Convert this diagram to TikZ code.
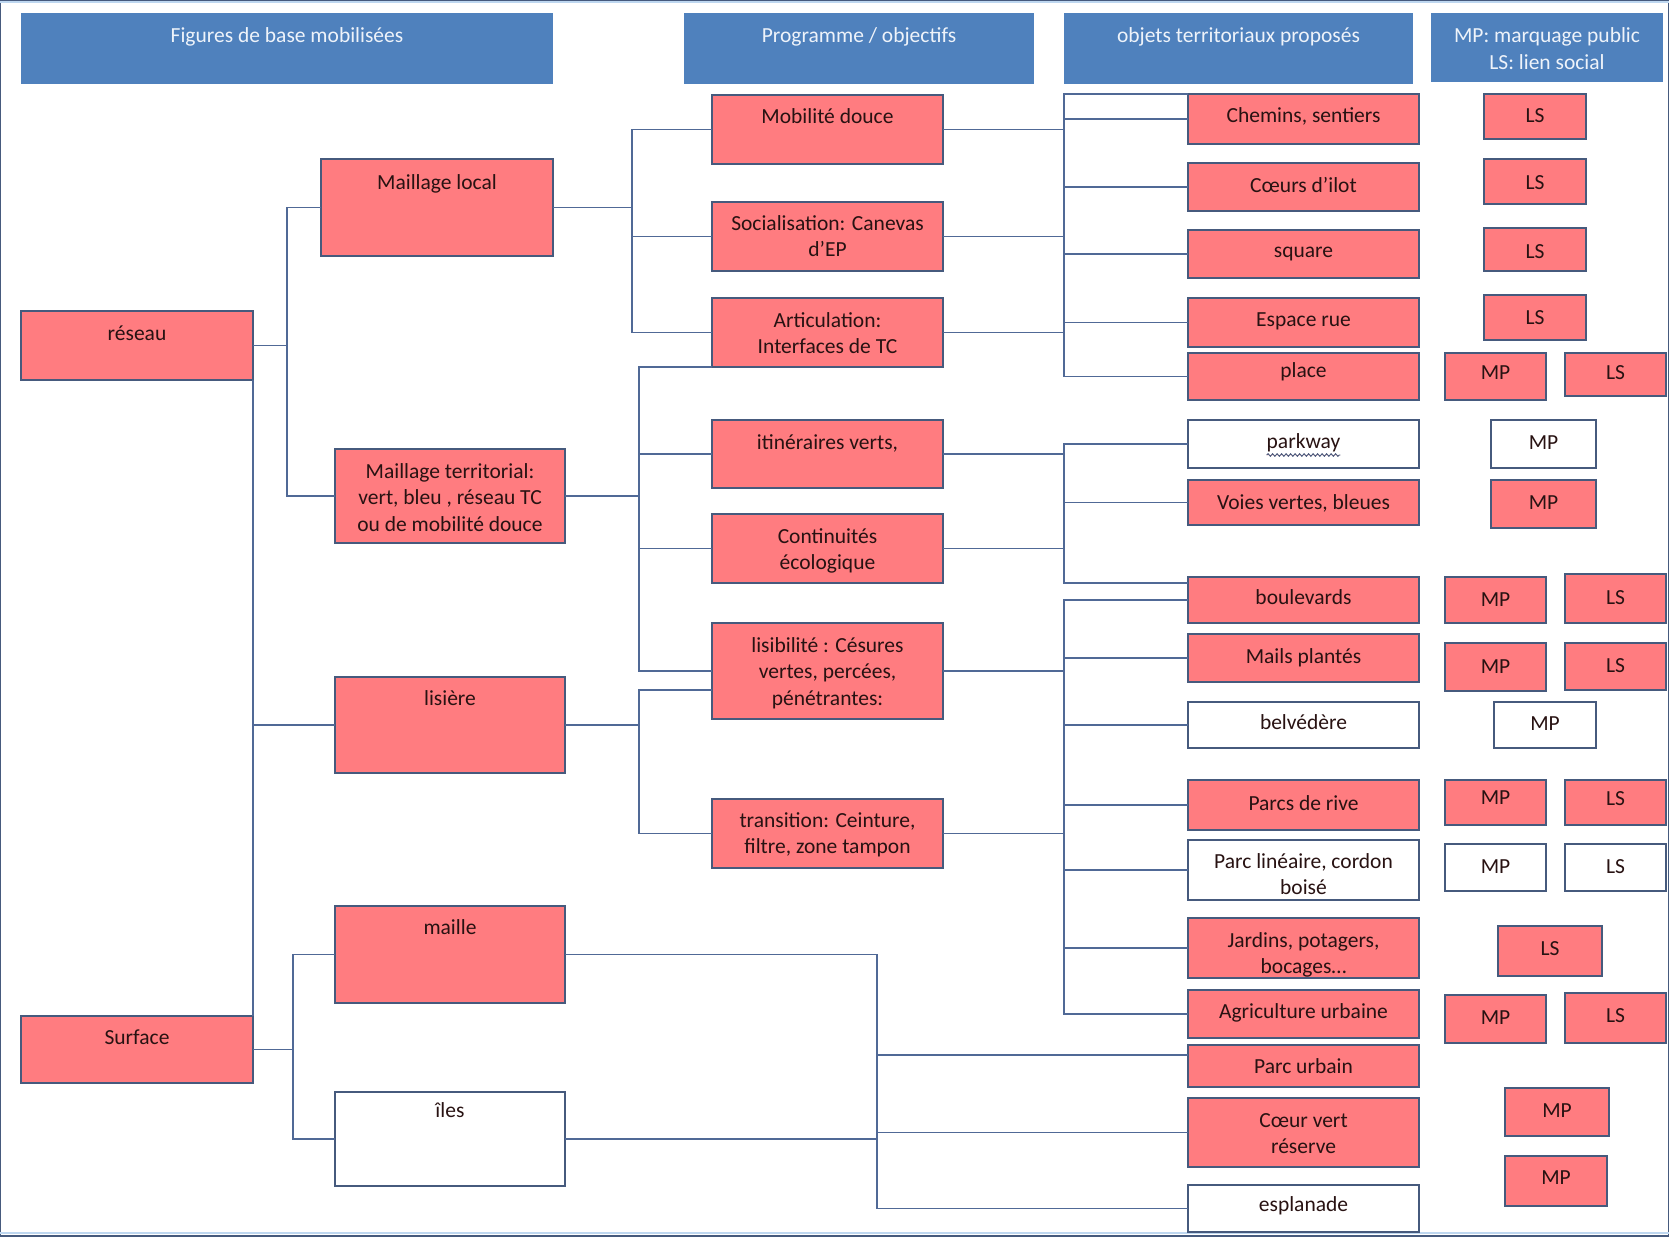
\documentclass[tikz,border=0pt]{standalone}
\usepackage{fontspec}
\setmainfont{Carlito}
\usetikzlibrary{calc,decorations.pathmorphing}
\definecolor{redfill}{RGB}{255,124,128}
\definecolor{hdrblue}{RGB}{79,129,189}
\definecolor{edgecol}{RGB}{70,90,125}
\definecolor{conncol}{RGB}{80,105,150}
\definecolor{rulecol}{RGB}{190,215,240}
\definecolor{ink}{RGB}{40,18,18}
\definecolor{hdrink}{RGB}{238,243,250}
\tikzset{
  red/.style={draw=edgecol, fill=redfill, line width=1.4pt, inner sep=0pt, outer sep=0pt},
  white/.style={draw=edgecol, fill=white, line width=1.4pt, inner sep=0pt, outer sep=0pt},
  hdr/.style={fill=hdrblue, inner sep=0pt, outer sep=0pt},
  txt/.style={inner sep=0pt, outer sep=0pt, anchor=base},
  redtxt/.style={text=ink},
  whitetxt/.style={text=ink},
  hdrtxt/.style={text=hdrink},
  conn/.style={draw=conncol, line width=1.6pt},
}
\newcommand\bx[8]{%
  \pgfmathsetmacro\mybw{#5-#3}%
  \pgfmathsetmacro\mybh{#6-#4}%
  \pgfmathsetmacro\mycx{(#3+#5)/2}%
  \node[#1, minimum width=\mybw pt, minimum height=\mybh pt, anchor=north west] (#2) at (#3,#4) {};
  \node[txt, #1txt] (#2t) at (\mycx,#7) {#8};}
\newcommand\twol[2]{\begin{tabular}[t]{@{}c@{}}#1\\#2\end{tabular}}
\newcommand\threel[3]{\begin{tabular}[t]{@{}c@{}}#1\\#2\\#3\end{tabular}}
\begin{document}
\begin{tikzpicture}[x=1pt, y=-1pt, font=\fontsize{21.5}{26.5}\selectfont]
\useasboundingbox (0,0) rectangle (1669,1236);
\fill[white] (0,0) rectangle (1669,1236);
\draw[rulecol, line width=2pt] (0,2) -- (1669,2);
\draw[rulecol, line width=2pt] (0,1233) -- (1669,1233);

% headers
\bx{hdr}{h1}{21}{13}{553}{84}{43}{Figures de base mobilisées}
\bx{hdr}{h2}{684}{13}{1034}{84}{43}{Programme / objectifs}
\bx{hdr}{h3}{1064}{13}{1413}{84}{43}{objets territoriaux proposés}
\bx{hdr}{h4}{1431}{13}{1663}{82}{43}{\twol{MP: marquage public}{LS: lien social}}

% column 1
\bx{red}{reseau}{21}{311}{253}{380}{340}{réseau}
\bx{red}{surface}{21}{1016}{253}{1083}{1044}{Surface}

% column 2
\bx{red}{ml}{321}{159}{553}{256}{189}{Maillage local}
\bx{red}{mt}{335}{449}{565}{543}{478}{\threel{Maillage territorial:}{vert, bleu , réseau TC}{ou de mobilité douce}}
\bx{red}{lisiere}{335}{677}{565}{773}{705}{lisière}
\bx{red}{maille}{335}{906}{565}{1003}{934}{maille}
\bx{white}{iles}{335}{1092}{565}{1186}{1117}{îles}

% column 3
\bx{red}{mob}{712}{95}{943}{164}{124}{Mobilité douce}
\bx{red}{soc}{712}{202}{943}{271}{230}{\twol{Socialisation: Canevas}{d’EP}}
\bx{red}{art}{712}{298}{943}{367}{327}{\twol{Articulation:}{Interfaces de TC}}
\bx{red}{itin}{712}{420}{943}{488}{449}{itinéraires verts,}
\bx{red}{cont}{712}{514}{943}{583}{543}{\twol{Continuités}{écologique}}
\bx{red}{lisib}{712}{623}{943}{719}{652}{\threel{lisibilité~: Césures}{vertes, percées,}{pénétrantes:}}
\bx{red}{trans}{712}{799}{943}{868}{827}{\twol{transition: Ceinture,}{filtre, zone tampon}}

% column 4
\bx{red}{chem}{1188}{94}{1419}{144}{123}{Chemins, sentiers}
\bx{red}{coeurs}{1188}{163}{1419}{211}{192}{Cœurs d’ilot}
\bx{red}{square}{1188}{230}{1419}{278}{257}{square}
\bx{red}{espace}{1188}{298}{1419}{347}{326}{Espace rue}
\bx{red}{place}{1188}{353}{1419}{400}{377}{place}
\bx{white}{parkway}{1188}{420}{1419}{468}{448}{parkway}
\bx{red}{voies}{1188}{480}{1419}{525}{509}{Voies vertes, bleues}
\bx{red}{boul}{1188}{577}{1419}{623}{604}{boulevards}
\bx{red}{mails}{1188}{634}{1419}{682}{663}{Mails plantés}
\bx{white}{belv}{1188}{702}{1419}{748}{729}{belvédère}
\bx{red}{rive}{1188}{780}{1419}{830}{810}{Parcs de rive}
\bx{white}{parclin}{1188}{840}{1419}{900}{868}{\twol{Parc linéaire, cordon}{boisé}}
\bx{red}{jard}{1188}{918}{1419}{978}{947}{\twol{Jardins, potagers,}{bocages…}}
\bx{red}{agri}{1188}{990}{1419}{1038}{1018}{Agriculture urbaine}
\bx{red}{parcurb}{1188}{1045}{1419}{1087}{1073}{Parc urbain}
\bx{red}{cv}{1188}{1098}{1419}{1167}{1127}{\twol{Cœur vert}{réserve}}
\bx{white}{espl}{1188}{1185}{1419}{1232}{1211}{esplanade}

% column 5
\bx{red}{ls1}{1484}{94}{1586}{139}{123}{LS}
\bx{red}{ls2}{1484}{159}{1586}{204}{189}{LS}
\bx{red}{ls3}{1484}{228}{1586}{271}{258}{LS}
\bx{red}{ls4}{1484}{295}{1586}{340}{324}{LS}
\bx{red}{mp5}{1445}{353}{1546}{400}{379}{MP}
\bx{red}{ls5}{1565}{353}{1666}{396}{379}{LS}
\bx{white}{mp6}{1491}{420}{1596}{468}{449}{MP}
\bx{red}{mp7}{1491}{480}{1596}{528}{509}{MP}
\bx{red}{mp8}{1445}{577}{1546}{623}{606}{MP}
\bx{red}{ls8}{1565}{574}{1666}{623}{604}{LS}
\bx{red}{mp9}{1445}{643}{1546}{691}{673}{MP}
\bx{red}{ls9}{1565}{643}{1666}{690}{672}{LS}
\bx{white}{mp10}{1494}{702}{1596}{748}{730}{MP}
\bx{red}{mp11}{1445}{780}{1546}{825}{804}{MP}
\bx{red}{ls11}{1565}{780}{1666}{825}{805}{LS}
\bx{white}{mp12}{1445}{844}{1546}{891}{873}{MP}
\bx{white}{ls12}{1565}{844}{1666}{891}{873}{LS}
\bx{red}{ls13}{1498}{926}{1602}{976}{955}{LS}
\bx{red}{mp14}{1445}{995}{1546}{1043}{1024}{MP}
\bx{red}{ls14}{1565}{993}{1666}{1043}{1022}{LS}
\bx{red}{mp15}{1505}{1088}{1609}{1136}{1117}{MP}
\bx{red}{mp16}{1505}{1156}{1607}{1206}{1184}{MP}

% spell-check underline
\draw[red, line width=0.9pt, decorate, decoration={snake, amplitude=1.3pt, segment length=4.5pt}]
  ($(parkwayt.base west)+(0,7)$) -- ($(parkwayt.base east)+(0,7)$);

% bus positions
\coordinate (xa) at (287,0);
\coordinate (xs) at (293,0);
\coordinate (xb) at (632,0);
\coordinate (xc) at (639,0);
\coordinate (xd) at (1064,0);
\coordinate (xe) at (877,0);

% connectors column 1 -> 2
\draw[conn] (reseau.east) -- (reseau.east -| xa) |- (ml.west);
\draw[conn] (reseau.east) -- (reseau.east -| xa) |- (mt.west);
\draw[conn] (reseau.south east) |- (lisiere.west);
\draw[conn] (surface.north east) |- (lisiere.west);
\draw[conn] (surface.east) -- (surface.east -| xs) |- (maille.west);
\draw[conn] (surface.east) -- (surface.east -| xs) |- (iles.west);

% column 2 -> 3
\draw[conn] (ml.east) -- (ml.east -| xb) |- (mob.west);
\draw[conn] (ml.east) -- (ml.east -| xb) |- (soc.west);
\draw[conn] (ml.east) -- (ml.east -| xb) |- (art.west);
\draw[conn] (mt.east) -- (mt.east -| xc) |- (art.south west);
\draw[conn] (mt.east) -- (mt.east -| xc) |- (itin.west);
\draw[conn] (mt.east) -- (mt.east -| xc) |- (cont.west);
\draw[conn] (mt.east) -- (mt.east -| xc) |- (lisib.west);
\draw[conn] (lisiere.east) -- (lisiere.east -| xc) |- ($(lisib.west)+(0,19)$);
\draw[conn] (lisiere.east) -- (lisiere.east -| xc) |- (trans.west);

% column 3 -> 4
\draw[conn] (mob.east) -- (mob.east -| xd) |- (chem.north west);
\draw[conn] (mob.east) -- (mob.east -| xd) |- (chem.west);
\draw[conn] (mob.east) -- (mob.east -| xd) |- (coeurs.west);
\draw[conn] (soc.east) -- (soc.east -| xd) |- (coeurs.west);
\draw[conn] (soc.east) -- (soc.east -| xd) |- (square.west);
\draw[conn] (soc.east) -- (soc.east -| xd) |- (espace.west);
\draw[conn] (art.east) -- (art.east -| xd) |- (espace.west);
\draw[conn] (art.east) -- (art.east -| xd) |- (place.west);

\draw[conn] (itin.east) -- (itin.east -| xd) |- (parkway.west);
\draw[conn] (itin.east) -- (itin.east -| xd) |- (voies.west);
\draw[conn] (cont.east) -- (cont.east -| xd) |- (voies.west);
\draw[conn] (cont.east) -- (cont.east -| xd) |- ($(boul.west)+(0,-17)$);

\draw[conn] (lisib.east) -- (lisib.east -| xd) |- (boul.west);
\draw[conn] (lisib.east) -- (lisib.east -| xd) |- (mails.west);
\draw[conn] (lisib.east) -- (lisib.east -| xd) |- (belv.west);
\draw[conn] (lisib.east) -- (lisib.east -| xd) |- (rive.west);
\draw[conn] (trans.east) -- (trans.east -| xd) |- (rive.west);
\draw[conn] (trans.east) -- (trans.east -| xd) |- (parclin.west);
\draw[conn] (trans.east) -- (trans.east -| xd) |- (jard.west);
\draw[conn] (trans.east) -- (trans.east -| xd) |- (agri.west);

% column 2 -> 4 (surface branch)
\draw[conn] (maille.east) -- (maille.east -| xe) |- ($(parcurb.west)+(0,-11)$);
\draw[conn] (maille.east) -- (maille.east -| xe) |- (espl.west);
\draw[conn] (iles.east) -- (iles.east -| xe) |- (cv.west);
\end{tikzpicture}
\end{document}
